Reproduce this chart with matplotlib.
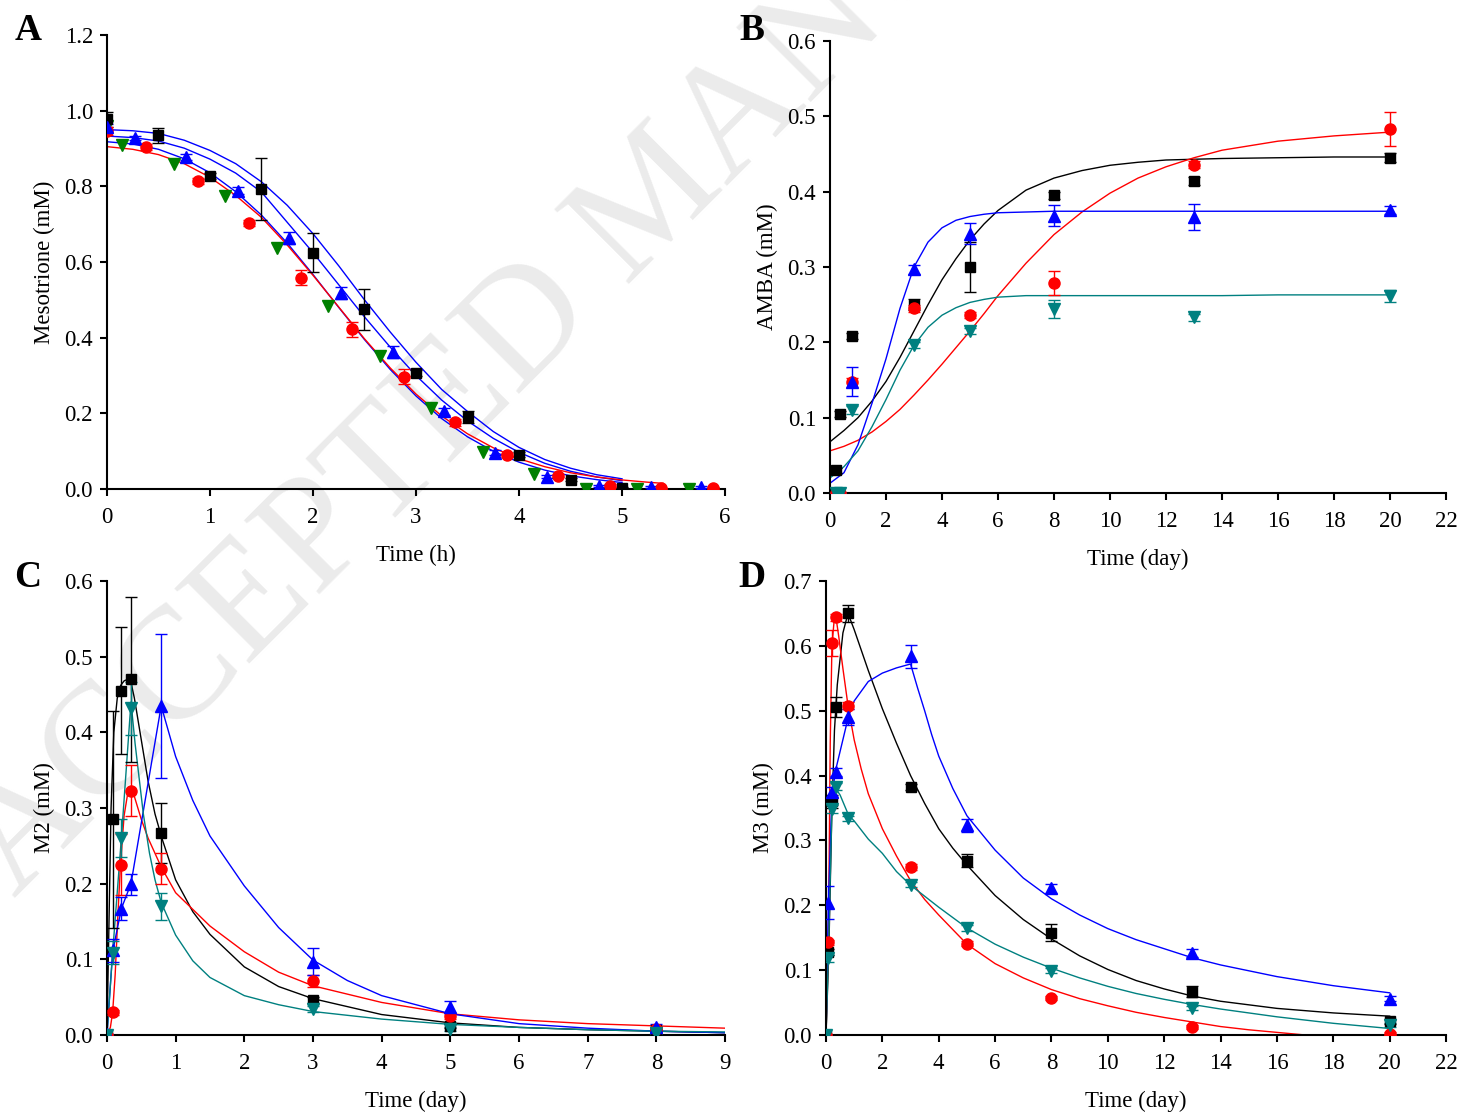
import matplotlib
matplotlib.use('Agg')
import matplotlib.pyplot as plt

plt.rcParams['font.family'] = ['Liberation Serif', 'DejaVu Serif']

# ---------------- panel A: mesotrione (h) ----------------
a_black_x = [0, 0.5, 1.0, 1.5, 2.0, 2.5, 3.0, 3.5, 4.0, 4.5, 5.0]
a_black_y = [0.977, 0.935, 0.828, 0.792, 0.625, 0.475, 0.306, 0.191, 0.091, 0.025, 0.004]
a_black_e = [0.02, 0.02, 0.008, 0.082, 0.051, 0.055, 0.008, 0.016, 0.006, 0.004, 0.002]

a_red_x = [0, 0.38, 0.88, 1.38, 1.88, 2.38, 2.88, 3.38, 3.88, 4.38, 4.88, 5.38, 5.88]
a_red_y = [0.947, 0.905, 0.813, 0.702, 0.558, 0.422, 0.297, 0.176, 0.09, 0.035, 0.009, 0.002, 0.003]
a_red_e = [0.01, 0.008, 0.008, 0.008, 0.02, 0.02, 0.02, 0.01, 0.006, 0.004, 0.003, 0.002, 0.002]

a_blue_x = [0, 0.27, 0.77, 1.27, 1.77, 2.27, 2.78, 3.27, 3.77, 4.27, 4.78, 5.28, 5.77]
a_blue_y = [0.957, 0.928, 0.878, 0.789, 0.663, 0.518, 0.363, 0.205, 0.096, 0.032, 0.008, 0.005, 0.006]
a_blue_e = [0.008, 0.006, 0.008, 0.01, 0.016, 0.016, 0.016, 0.01, 0.006, 0.004, 0.002, 0.002, 0.002]

a_green_x = [0, 0.15, 0.65, 1.15, 1.65, 2.15, 2.65, 3.15, 3.65, 4.15, 4.65, 5.15, 5.65]
a_green_y = [0.96, 0.91, 0.858, 0.775, 0.636, 0.484, 0.352, 0.214, 0.099, 0.041, 0.0, 0.0, 0.0]

a_fit_x = [0, 0.25, 0.5, 0.75, 1.0, 1.25, 1.5, 1.75, 2.0, 2.25, 2.5, 2.75, 3.0,
           3.25, 3.5, 3.75, 4.0, 4.25, 4.5, 4.75, 5.0]
a_fit_1 = [0.950, 0.947, 0.940, 0.922, 0.895, 0.860, 0.812, 0.750, 0.675, 0.590, 0.500,
           0.415, 0.335, 0.263, 0.205, 0.152, 0.110, 0.078, 0.055, 0.038, 0.027]
a_fit_2 = [0.933, 0.929, 0.920, 0.901, 0.872, 0.835, 0.785, 0.705, 0.625, 0.540, 0.455,
           0.375, 0.300, 0.235, 0.180, 0.134, 0.097, 0.068, 0.047, 0.032, 0.022]
a_fit_3 = [0.918, 0.912, 0.898, 0.873, 0.836, 0.786, 0.724, 0.650, 0.567, 0.480, 0.395,
           0.316, 0.246, 0.186, 0.138, 0.100, 0.071, 0.050, 0.035, 0.025, 0.017]
a_red_fit_x = a_fit_x + [5.25, 5.4]
a_red_fit = [0.905, 0.898, 0.884, 0.860, 0.824, 0.776, 0.718, 0.645, 0.565, 0.481, 0.397,
             0.320, 0.251, 0.193, 0.146, 0.109, 0.080, 0.059, 0.043, 0.032, 0.024, 0.018, 0.015]

# ---------------- panel B: AMBA (day) ----------------
b_x = [0.21, 0.35, 0.79, 3, 5, 8, 13, 20]
b_black_y = [0.03, 0.105, 0.209, 0.25, 0.30, 0.395, 0.414, 0.445]
b_black_e = [0.003, 0.004, 0.004, 0.007, 0.033, 0.005, 0.005, 0.006]
b_red_y = [0.0, 0.0, 0.147, 0.245, 0.236, 0.279, 0.436, 0.483]
b_red_e = [0.0, 0.0, 0.006, 0.005, 0.004, 0.016, 0.005, 0.023]
b_blue_y = [0.0, 0.0, 0.148, 0.297, 0.344, 0.368, 0.366, 0.376]
b_blue_e = [0.0, 0.0, 0.019, 0.006, 0.014, 0.014, 0.017, 0.005]
b_teal_y = [0.0, 0.0, 0.11, 0.196, 0.215, 0.244, 0.233, 0.261]
b_teal_e = [0.0, 0.0, 0.005, 0.004, 0.004, 0.012, 0.005, 0.008]

b_fit_x = [0, 0.5, 1, 1.5, 2, 2.5, 3, 3.5, 4, 4.5, 5, 5.5, 6, 7, 8, 9, 10, 11, 12, 13, 14,
           16, 18, 20]
b_fit_black = [0.068, 0.083, 0.100, 0.122, 0.148, 0.180, 0.215, 0.250, 0.283, 0.311, 0.336,
               0.357, 0.375, 0.402, 0.418, 0.428, 0.435, 0.439, 0.442, 0.443, 0.444, 0.445,
               0.446, 0.446]
b_fit_red = [0.056, 0.062, 0.070, 0.081, 0.095, 0.111, 0.130, 0.150, 0.171, 0.193, 0.215,
             0.238, 0.262, 0.305, 0.343, 0.373, 0.398, 0.418, 0.433, 0.445, 0.455, 0.467,
             0.474, 0.479]
b_fit_blue = [0.013, 0.027, 0.064, 0.119, 0.178, 0.245, 0.300, 0.333, 0.352, 0.362, 0.367,
              0.370, 0.372, 0.373, 0.374, 0.374, 0.374, 0.374, 0.374, 0.374, 0.374, 0.374,
              0.374, 0.374]
b_fit_teal = [0.020, 0.035, 0.056, 0.088, 0.124, 0.163, 0.196, 0.220, 0.236, 0.246, 0.253,
              0.257, 0.260, 0.262, 0.262, 0.262, 0.262, 0.262, 0.262, 0.262, 0.262, 0.263,
              0.263, 0.263]

# ---------------- panel C: M2 (day) ----------------
c_x = [0, 0.083, 0.21, 0.35, 0.79, 3, 5, 8]
c_black_y = [0.0, 0.285, 0.455, 0.47, 0.267, 0.046, 0.012, 0.006]
c_black_e = [0.0, 0.143, 0.084, 0.109, 0.04, 0.004, 0.003, 0.002]
c_red_y = [0.0, 0.03, 0.225, 0.323, 0.22, 0.071, 0.025, 0.008]
c_red_e = [0.0, 0.003, 0.04, 0.034, 0.021, 0.008, 0.004, 0.002]
c_blue_y = [0.001, 0.112, 0.167, 0.199, 0.435, 0.097, 0.037, 0.011]
c_blue_e = [0.0, 0.015, 0.015, 0.014, 0.095, 0.018, 0.008, 0.004]
c_teal_y = [0.0, 0.109, 0.26, 0.432, 0.17, 0.034, 0.008, 0.003]
c_teal_e = [0.0, 0.015, 0.025, 0.035, 0.018, 0.004, 0.003, 0.002]

c_fit_black_x = [0, 0.03, 0.06, 0.1, 0.15, 0.2, 0.25, 0.3, 0.35, 0.4, 0.5, 0.6, 0.7, 0.8,
                 1.0, 1.25, 1.5, 2, 2.5, 3, 4, 5, 6, 7, 8, 9]
c_fit_black = [0, 0.15, 0.30, 0.40, 0.445, 0.462, 0.468, 0.470, 0.466, 0.445, 0.39, 0.335,
               0.292, 0.260, 0.205, 0.163, 0.133, 0.090, 0.064, 0.048, 0.027, 0.016, 0.010,
               0.007, 0.005, 0.003]
c_fit_red_x = [0, 0.05, 0.083, 0.12, 0.16, 0.2, 0.25, 0.3, 0.35, 0.4, 0.5, 0.6, 0.79, 1.0,
               1.5, 2.0, 2.5, 3.0, 4, 5, 6, 7, 8, 9]
c_fit_red = [0, 0.01, 0.03, 0.08, 0.16, 0.23, 0.29, 0.318, 0.325, 0.315, 0.285, 0.26, 0.222,
             0.188, 0.144, 0.11, 0.083, 0.065, 0.043, 0.028, 0.020, 0.015, 0.012, 0.009]
c_fit_blue_x = [0, 0.083, 0.21, 0.35, 0.79, 1.0, 1.25, 1.5, 2.0, 2.5, 3.0, 3.5, 4, 5, 6, 7, 8, 9]
c_fit_blue = [0, 0.11, 0.167, 0.2, 0.435, 0.368, 0.31, 0.263, 0.197, 0.142, 0.099, 0.072,
              0.052, 0.028, 0.015, 0.009, 0.005, 0.003]
c_fit_teal_x = [0, 0.083, 0.21, 0.35, 0.41, 0.53, 0.62, 0.7, 0.79, 1.0, 1.25, 1.5, 2.0, 2.5,
                3.0, 4, 5, 6, 7, 8, 9]
c_fit_teal = [0, 0.109, 0.26, 0.44, 0.385, 0.292, 0.24, 0.205, 0.175, 0.132, 0.098, 0.076,
              0.052, 0.040, 0.031, 0.021, 0.014, 0.010, 0.007, 0.005, 0.004]

# ---------------- panel D: M3 (day) ----------------
d_x = [0, 0.083, 0.21, 0.35, 0.79, 3, 5, 8, 13, 20]
d_black_y = [0.0, 0.128, 0.36, 0.506, 0.65, 0.382, 0.269, 0.158, 0.067, 0.021]
d_black_e = [0.0, 0.005, 0.01, 0.015, 0.013, 0.005, 0.01, 0.013, 0.008, 0.004]
d_red_y = [0.0, 0.143, 0.605, 0.644, 0.508, 0.259, 0.141, 0.057, 0.0125, 0.002]
d_red_e = [0.0, 0.004, 0.02, 0.005, 0.005, 0.004, 0.004, 0.003, 0.003, 0.002]
d_blue_y = [0.0, 0.204, 0.375, 0.405, 0.49, 0.584, 0.323, 0.226, 0.126, 0.056]
d_blue_e = [0.0, 0.025, 0.008, 0.006, 0.012, 0.018, 0.01, 0.007, 0.006, 0.004]
d_teal_y = [0.0, 0.118, 0.348, 0.383, 0.334, 0.232, 0.165, 0.099, 0.042, 0.015]
d_teal_e = [0.0, 0.005, 0.006, 0.005, 0.004, 0.004, 0.004, 0.004, 0.003, 0.003]

d_fit_black_x = [0, 0.1, 0.2, 0.3, 0.4, 0.6, 0.78, 1.0, 1.5, 2.0, 2.5, 3.0, 3.5, 4, 4.5, 5,
                 6, 7, 8, 9, 10, 11, 12, 13, 14, 16, 18, 20]
d_fit_black = [0, 0.13, 0.33, 0.47, 0.54, 0.62, 0.65, 0.625, 0.562, 0.503, 0.45, 0.40, 0.357,
               0.318, 0.288, 0.262, 0.215, 0.178, 0.148, 0.122, 0.101, 0.084, 0.071, 0.060,
               0.052, 0.041, 0.034, 0.029]
d_fit_red_x = [0, 0.083, 0.15, 0.21, 0.3, 0.35, 0.45, 0.6, 0.79, 1.0, 1.25, 1.5, 2.0, 2.5,
               3.0, 3.5, 4, 5, 6, 7, 8, 9, 10, 11, 12, 13, 14, 15, 16, 17]
d_fit_red = [0, 0.14, 0.45, 0.60, 0.645, 0.645, 0.615, 0.565, 0.505, 0.455, 0.41, 0.372,
             0.318, 0.276, 0.238, 0.209, 0.185, 0.140, 0.110, 0.088, 0.070, 0.056, 0.045,
             0.035, 0.027, 0.020, 0.013, 0.008, 0.004, 0.0]
d_fit_blue_x = [0, 0.083, 0.21, 0.35, 0.79, 1.0, 1.5, 2.0, 2.5, 3.0, 3.25, 3.5, 3.75, 4,
                4.5, 5, 6, 7, 8, 9, 10, 11, 12, 13, 14, 16, 18, 20]
d_fit_blue = [0, 0.20, 0.37, 0.41, 0.49, 0.515, 0.545, 0.558, 0.566, 0.572, 0.535, 0.50,
              0.463, 0.43, 0.38, 0.338, 0.285, 0.242, 0.21, 0.185, 0.164, 0.147, 0.133,
              0.119, 0.108, 0.09, 0.076, 0.065]
d_fit_teal_x = [0, 0.083, 0.21, 0.35, 0.5, 0.79, 1.0, 1.5, 2.0, 2.5, 3.0, 4, 5, 6, 7, 8, 9,
                10, 11, 12, 13, 14, 16, 18, 20]
d_fit_teal = [0, 0.12, 0.35, 0.38, 0.37, 0.34, 0.33, 0.302, 0.28, 0.252, 0.231, 0.197, 0.165,
              0.14, 0.12, 0.103, 0.088, 0.075, 0.064, 0.055, 0.047, 0.04, 0.028, 0.018, 0.01]

BLACK, RED, BLUE, GREEN, TEAL = 'black', '#ff0000', '#0000ff', '#008000', '#008080'

fig = plt.figure(figsize=(14.63, 11.16), dpi=100)

# watermark behind everything
fig.text(0.01, 0.195, 'ACCEPTED MANUSCRIPT', fontsize=115, color='#ebebeb',
         rotation=45, rotation_mode='anchor', ha='left', va='baseline', zorder=-1)

axA = fig.add_axes([0.0731, 0.5618, 0.4225, 0.4068])
axB = fig.add_axes([0.5673, 0.5582, 0.4211, 0.4051])
axC = fig.add_axes([0.0731, 0.0726, 0.4225, 0.4068])
axD = fig.add_axes([0.5646, 0.0726, 0.4238, 0.4068])


def style(ax, xmax, xstep, ymax, ystep, xlabel, ylabel, letter, lx, ly):
    ax.set_facecolor('none')
    ax.spines['top'].set_visible(False)
    ax.spines['right'].set_visible(False)
    for s in ('left', 'bottom'):
        ax.spines[s].set_linewidth(1.5)
    ax.set_xlim(0, xmax)
    ax.set_ylim(0, ymax)
    nx = int(round(xmax / xstep))
    ny = int(round(ymax / ystep))
    ax.set_xticks([i * xstep for i in range(nx + 1)])
    ax.set_yticks([i * ystep for i in range(ny + 1)])
    ax.set_yticklabels(['%.1f' % (i * ystep) for i in range(ny + 1)])
    ax.tick_params(direction='out', length=5, width=1.5, labelsize=16.5)
    ax.tick_params(axis='x', pad=8)
    ax.tick_params(axis='y', pad=5)
    ax.set_xlabel(xlabel, fontsize=16.5, labelpad=12)
    ax.set_ylabel(ylabel, fontsize=16.5, labelpad=7)
    ax.text(lx, ly, letter, transform=ax.transAxes, fontsize=27, fontweight='bold',
            ha='center', va='center')


def pts(ax, x, y, e, marker, color, ms):
    if e is None:
        ax.plot(x, y, linestyle='none', marker=marker, color=color, ms=ms, zorder=3)
    else:
        ax.errorbar(x, y, yerr=e, fmt=marker, color=color, ms=ms, capsize=4,
                    elinewidth=1, capthick=1, zorder=3)


# A
axA.plot(a_fit_x, a_fit_1, color=BLUE, lw=1)
axA.plot(a_fit_x, a_fit_2, color=BLUE, lw=1)
axA.plot(a_fit_x, a_fit_3, color=BLUE, lw=1)
axA.plot(a_red_fit_x, a_red_fit, color=RED, lw=1)
pts(axA, a_black_x, a_black_y, a_black_e, 's', BLACK, 7.3)
pts(axA, a_red_x, a_red_y, a_red_e, 'o', RED, 8)
pts(axA, a_blue_x, a_blue_y, a_blue_e, '^', BLUE, 8.5)
pts(axA, a_green_x, a_green_y, None, 'v', GREEN, 8.5)
style(axA, 6, 1, 1.2, 0.2, 'Time (h)', 'Mesotrione (mM)', 'A', -0.128, 1.01)

# B
axB.plot(b_fit_x, b_fit_black, color=BLACK, lw=1)
axB.plot(b_fit_x, b_fit_red, color=RED, lw=1)
axB.plot(b_fit_x, b_fit_blue, color=BLUE, lw=1)
axB.plot(b_fit_x, b_fit_teal, color=TEAL, lw=1)
pts(axB, b_x, b_black_y, b_black_e, 's', BLACK, 7.3)
pts(axB, b_x, b_red_y, b_red_e, 'o', RED, 8)
pts(axB, b_x, b_blue_y, b_blue_e, '^', BLUE, 8.5)
pts(axB, b_x, b_teal_y, b_teal_e, 'v', TEAL, 8.5)
style(axB, 22, 2, 0.6, 0.1, 'Time (day)', 'AMBA (mM)', 'B', -0.127, 1.024)

# C
axC.plot(c_fit_black_x, c_fit_black, color=BLACK, lw=1)
axC.plot(c_fit_red_x, c_fit_red, color=RED, lw=1)
axC.plot(c_fit_blue_x, c_fit_blue, color=BLUE, lw=1)
axC.plot(c_fit_teal_x, c_fit_teal, color=TEAL, lw=1)
pts(axC, c_x, c_black_y, c_black_e, 's', BLACK, 7.3)
pts(axC, c_x, c_red_y, c_red_e, 'o', RED, 8)
pts(axC, c_x, c_blue_y, c_blue_e, '^', BLUE, 8.5)
pts(axC, c_x, c_teal_y, c_teal_e, 'v', TEAL, 8.5)
style(axC, 9, 1, 0.6, 0.1, 'Time (day)', 'M2 (mM)', 'C', -0.128, 1.007)

# D
axD.plot(d_fit_black_x, d_fit_black, color=BLACK, lw=1)
axD.plot(d_fit_red_x, d_fit_red, color=RED, lw=1)
axD.plot(d_fit_blue_x, d_fit_blue, color=BLUE, lw=1)
axD.plot(d_fit_teal_x, d_fit_teal, color=TEAL, lw=1)
pts(axD, d_x, d_black_y, d_black_e, 's', BLACK, 7.3)
pts(axD, d_x, d_red_y, d_red_e, 'o', RED, 8)
pts(axD, d_x, d_blue_y, d_blue_e, '^', BLUE, 8.5)
pts(axD, d_x, d_teal_y, d_teal_e, 'v', TEAL, 8.5)
style(axD, 22, 2, 0.7, 0.1, 'Time (day)', 'M3 (mM)', 'D', -0.119, 1.007)

fig.savefig('out.png', dpi=100)
